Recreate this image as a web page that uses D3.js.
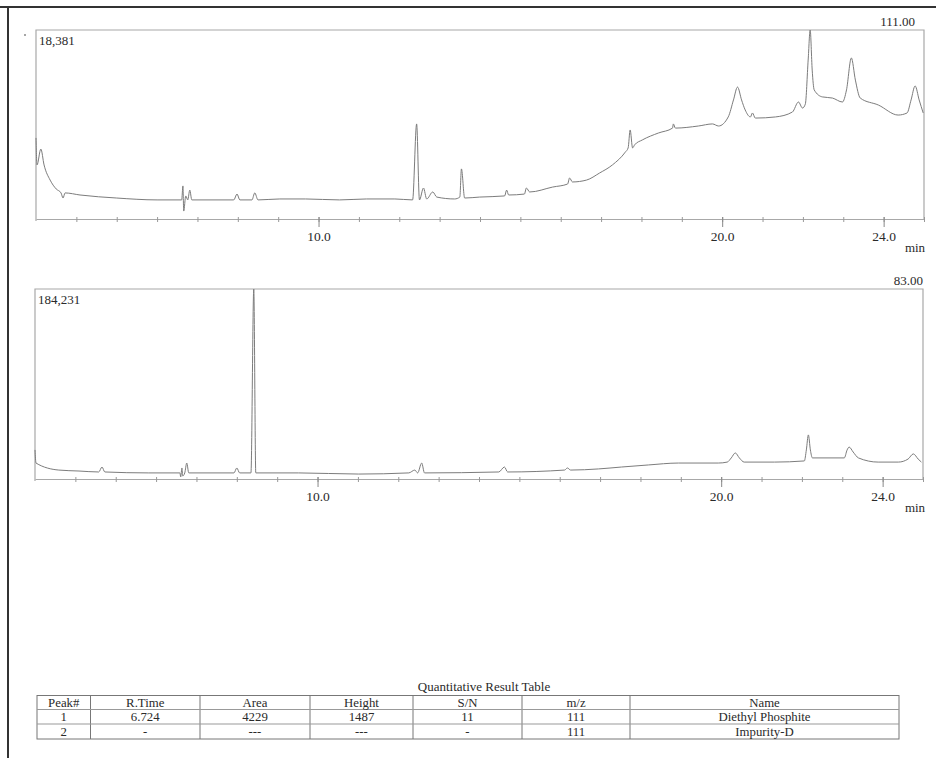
<!DOCTYPE html>
<html><head><meta charset="utf-8">
<script src="https://cdn.jsdelivr.net/npm/d3@7"></script>
<style>
html,body{margin:0;padding:0;background:#fff;}
svg{display:block;font-family:"Liberation Serif","Times New Roman",serif;}
</style></head>
<body><svg id="c" width="936" height="758"></svg>
<script>
// ---- Data (retention time in min, relative intensity % of full scale) ----
const topTime = [3.00,3.025,3.12,3.20,3.35,3.50,3.62,3.67,3.72,4.09,5.00,6.00,6.61,6.64,6.66,6.71,6.76,6.81,6.86,7.90,7.98,8.05,8.35,8.42,8.50,9.04,9.68,10.52,11.19,11.89,12.33,12.43,12.50,12.60,12.68,12.83,12.93,13.37,13.50,13.54,13.62,13.99,14.61,14.66,14.71,15.10,15.15,15.23,15.80,16.17,16.22,16.29,16.64,16.96,17.28,17.60,17.67,17.72,17.78,17.83,18.02,18.42,18.77,18.79,18.84,19.41,19.76,19.91,20.15,20.28,20.38,20.48,20.57,20.70,20.75,20.82,21.32,21.74,21.89,21.99,22.06,22.13,22.18,22.23,22.28,22.48,22.73,22.98,23.08,23.20,23.30,23.42,23.87,24.36,24.58,24.68,24.78,24.88,24.98];
const topIntensity = [42.9,28.6,37.0,28.6,20.6,15.9,13.8,11.1,13.8,12.7,11.1,10.1,10.1,17.5,4.2,12.2,10.1,15.3,10.1,10.1,13.2,10.1,10.1,13.8,10.1,10.6,10.6,10.1,10.6,10.6,10.1,50.3,10.1,16.4,10.6,14.3,11.6,10.6,11.6,26.5,11.1,11.6,12.2,15.3,12.7,13.2,16.4,14.3,16.9,18.5,21.7,19.6,20.6,24.3,28.6,35.4,37.6,47.1,37.6,39.2,41.8,45.5,48.1,50.3,48.1,49.2,50.3,49.2,54.0,63.0,69.8,63.0,57.7,54.0,56.1,53.4,54.0,56.6,61.9,58.7,60.8,84.1,100,78.8,68.3,64.6,64.0,61.9,68.3,85.2,73.5,64.0,60.3,55.0,56.1,63.0,70.4,63.0,56.1];

const botTime = [3.00,3.025,3.59,4.09,4.58,4.66,4.73,5.82,6.59,6.61,6.64,6.66,6.71,6.76,6.81,7.93,8.00,8.07,8.35,8.42,8.47,9.53,11.02,12.26,12.41,12.48,12.58,12.65,14.49,14.63,14.71,16.12,16.19,16.27,16.96,17.53,18.20,18.94,19.93,20.15,20.25,20.35,20.45,20.57,21.32,22.06,22.11,22.16,22.21,22.26,23.05,23.12,23.17,23.27,23.40,23.89,24.39,24.63,24.76,24.88,24.96];
const botIntensity = [15.3,8.4,4.7,4.2,3.7,6.3,3.7,3.2,3.2,1.1,5.8,1.6,3.2,8.4,3.2,3.2,5.8,3.2,3.2,100,3.2,3.2,2.6,3.2,4.7,3.2,8.4,3.2,3.7,6.3,3.7,4.7,5.8,4.7,5.3,6.3,7.4,8.4,8.4,8.9,11.1,13.7,11.1,8.9,8.9,9.5,15.3,23.2,15.3,11.1,11.1,15.3,16.8,14.2,11.1,8.9,8.9,10.5,13.2,10.5,8.9];

const xDomain = [3, 25];
const minorTicks = [4,5,6,7,8,9,10,11,12,13,14,15,16,17,18,19,20,21,22,23,24,25];
const majorTicks = [10, 20, 24];
const majorTickLabels = ["10.0", "20.0", "24.0"];
const topMaxLabel = "18,381", topMzLabel = "111.00";
const botMaxLabel = "184,231", botMzLabel = "83.00";

const tableTitle = "Quantitative Result Table";
const tableHeader = ["Peak#", "R.Time", "Area", "Height", "S/N", "m/z", "Name"];
const tableRow1 = ["1", "6.724", "4229", "1487", "11", "111", "Diethyl Phosphite"];
const tableRow2 = ["2", "-", "---", "---", "-", "111", "Impurity-D"];

// ---- Layout ----
const svg = d3.select("#c");
const TRACE = "#7c7c7c", FRAME = "#a8a8a8", TXT = "#2a2a2a";

svg.append("line").attr("x1",0).attr("x2",936).attr("y1",7).attr("y2",7).attr("stroke","#333").attr("stroke-width",2);
svg.append("line").attr("x1",8).attr("x2",8).attr("y1",7).attr("y2",758).attr("stroke","#333").attr("stroke-width",2);
svg.append("circle").attr("cx",25).attr("cy",35).attr("r",1).attr("fill","#888");

function panel(cfg){
  const x = d3.scaleLinear().domain(xDomain).range([cfg.left, cfg.right]);
  const y = d3.scaleLinear().domain([0,100]).range([cfg.bottom, cfg.top]);
  const g = svg.append("g");
  g.append("path")
    .attr("d", `M${cfg.left},${cfg.bottom+2}V${cfg.top}H${cfg.right}V${cfg.bottom}`)
    .attr("fill","none").attr("stroke",FRAME).attr("stroke-width",1.2);
  const ax1 = g.append("g").attr("transform",`translate(0,${cfg.bottom})`)
    .call(d3.axisBottom(x).tickValues(minorTicks).tickSize(3).tickSizeOuter(0).tickFormat(""));
  ax1.select(".domain").attr("stroke",FRAME).attr("stroke-width",1.2);
  ax1.selectAll(".tick line").attr("stroke","#999").attr("y1",-2);
  const ax2 = g.append("g").attr("transform",`translate(0,${cfg.bottom})`)
    .call(d3.axisBottom(x).tickValues(majorTicks).tickSize(8).tickPadding(4)
      .tickFormat((d,i)=>majorTickLabels[i]));
  ax2.select(".domain").remove();
  ax2.selectAll(".tick line").attr("stroke","#888").attr("y1",-2);
  ax2.selectAll(".tick text").attr("fill",TXT).attr("font-size",13.5)
    .attr("font-family","'Liberation Serif','Times New Roman',serif");
  const data = cfg.t.map((t,i)=>[t, cfg.v[i]]);
  g.append("path").datum(data)
    .attr("d", d3.line().curve(d3.curveMonotoneX).x(d=>x(d[0])).y(d=>y(d[1])))
    .attr("fill","none").attr("stroke",TRACE).attr("stroke-width",1).attr("stroke-linejoin","round");
  g.append("text").attr("x",cfg.left+3).attr("y",cfg.top+15).text(cfg.maxLabel)
    .attr("font-size",13).attr("fill",TXT);
  g.append("text").attr("x",cfg.mzRight).attr("y",cfg.top-4).attr("text-anchor","end").text(cfg.mzLabel)
    .attr("font-size",13).attr("fill",TXT);
  g.append("text").attr("x",915).attr("y",cfg.bottom+33).attr("text-anchor","middle").text("min")
    .attr("font-size",13).attr("fill",TXT);
}

panel({left:36,right:924,top:30,bottom:219,t:topTime,v:topIntensity,maxLabel:topMaxLabel,mzLabel:topMzLabel,mzRight:915});
panel({left:35,right:923,top:289,bottom:479,t:botTime,v:botIntensity,maxLabel:botMaxLabel,mzLabel:botMzLabel,mzRight:923});

// ---- Table ----
const colEdges = [37, 90.5, 200, 310, 413, 522, 630, 899];
const rowEdges = [695.5, 709.5, 724, 739];
const tg = svg.append("g");
tg.append("text").attr("x",484).attr("y",690.5).attr("text-anchor","middle")
  .attr("font-size",13).attr("fill",TXT).text(tableTitle);
tg.append("rect").attr("x",colEdges[0]).attr("y",rowEdges[0])
  .attr("width",colEdges[7]-colEdges[0]).attr("height",rowEdges[3]-rowEdges[0])
  .attr("fill","none").attr("stroke","#777").attr("stroke-width",1);
colEdges.slice(1,-1).forEach(cx=>tg.append("line").attr("x1",cx).attr("x2",cx)
  .attr("y1",rowEdges[0]).attr("y2",rowEdges[3]).attr("stroke","#777"));
rowEdges.slice(1,-1).forEach(ry=>tg.append("line").attr("x1",colEdges[0]).attr("x2",colEdges[7])
  .attr("y1",ry).attr("y2",ry).attr("stroke","#999"));
[tableHeader, tableRow1, tableRow2].forEach((row,ri)=>{
  row.forEach((cell,ci)=>{
    tg.append("text").attr("x",(colEdges[ci]+colEdges[ci+1])/2)
      .attr("y",(rowEdges[ri]+rowEdges[ri+1])/2+4.4)
      .attr("text-anchor","middle").attr("font-size",12.8).attr("fill",TXT).text(cell);
  });
});
</script></body></html>
